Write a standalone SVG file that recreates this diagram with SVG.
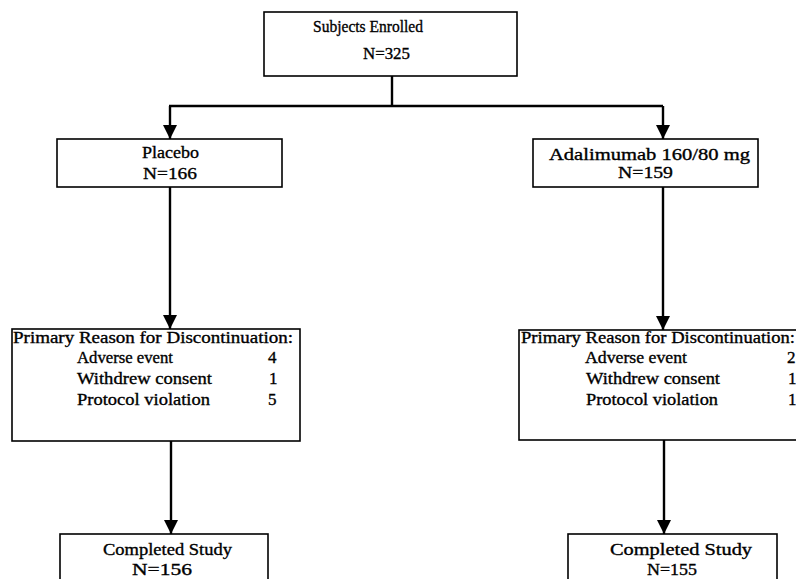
<svg xmlns="http://www.w3.org/2000/svg" width="796" height="579" viewBox="0 0 796 579">
<style>
.box{fill:#fff;stroke:#000;stroke-width:1.6}
.c{fill:none;stroke:#000;stroke-width:2.4}
text{font-family:"Liberation Serif","Times New Roman",serif;font-size:17px;fill:#000;stroke:#000;stroke-width:0.35}
</style>
<defs>
<marker id="ah" markerUnits="userSpaceOnUse" markerWidth="14" markerHeight="14" refX="14" refY="7" orient="auto" viewBox="0 0 14 14">
<path d="M0,0 L14,7 L0,14 Z" fill="#000"/>
</marker>
</defs>
<rect width="796" height="579" fill="#fff"/>
<g id="connectors">
<path class="c" d="M392,76 V106"/>
<path class="c" d="M169,106 H663"/>
<path class="c" d="M170,106 V139" marker-end="url(#ah)"/>
<path class="c" d="M663,106 V139" marker-end="url(#ah)"/>
<path class="c" d="M170,187 V329" marker-end="url(#ah)"/>
<path class="c" d="M663,187 V330" marker-end="url(#ah)"/>
<path class="c" d="M171,441 V534" marker-end="url(#ah)"/>
<path class="c" d="M664,440 V534" marker-end="url(#ah)"/>
</g>
<g id="enrolled">
<rect class="box" x="264" y="12" width="253" height="64"/>
<text x="313" y="32" textLength="110" lengthAdjust="spacingAndGlyphs">Subjects Enrolled</text>
<text x="363" y="59" textLength="47" lengthAdjust="spacingAndGlyphs">N=325</text>
</g>
<g id="placebo">
<rect class="box" x="57" y="139" width="225" height="48"/>
<text x="142" y="158" textLength="57" lengthAdjust="spacingAndGlyphs">Placebo</text>
<text x="143" y="179" textLength="54" lengthAdjust="spacingAndGlyphs">N=166</text>
</g>
<g id="adalimumab">
<rect class="box" x="533" y="139" width="225" height="48"/>
<text x="549" y="160" textLength="201" lengthAdjust="spacingAndGlyphs">Adalimumab 160/80 mg</text>
<text x="618" y="178" textLength="55" lengthAdjust="spacingAndGlyphs">N=159</text>
</g>
<g id="disc-placebo">
<rect class="box" x="12" y="329" width="288" height="112"/>
<text x="13" y="343" textLength="280" lengthAdjust="spacingAndGlyphs">Primary Reason for Discontinuation:</text>
<text x="77" y="363" textLength="96" lengthAdjust="spacingAndGlyphs">Adverse event</text>
<text x="268" y="363">4</text>
<text x="77" y="384" textLength="135" lengthAdjust="spacingAndGlyphs">Withdrew consent</text>
<text x="269" y="384">1</text>
<text x="77" y="405" textLength="133" lengthAdjust="spacingAndGlyphs">Protocol violation</text>
<text x="268" y="405">5</text>
</g>
<g id="disc-adalimumab">
<rect class="box" x="519" y="330" width="280" height="110"/>
<text x="521" y="343" textLength="274" lengthAdjust="spacingAndGlyphs">Primary Reason for Discontinuation:</text>
<text x="585" y="363" textLength="102" lengthAdjust="spacingAndGlyphs">Adverse event</text>
<text x="787" y="363">2</text>
<text x="586" y="384" textLength="134" lengthAdjust="spacingAndGlyphs">Withdrew consent</text>
<text x="788" y="384">1</text>
<text x="586" y="405" textLength="132" lengthAdjust="spacingAndGlyphs">Protocol violation</text>
<text x="788" y="405">1</text>
</g>
<g id="completed-placebo">
<rect class="box" x="60" y="534" width="208" height="60"/>
<text x="103" y="555" textLength="129" lengthAdjust="spacingAndGlyphs">Completed Study</text>
<text x="132" y="575" textLength="60" lengthAdjust="spacingAndGlyphs">N=156</text>
</g>
<g id="completed-adalimumab">
<rect class="box" x="568" y="534" width="209" height="60"/>
<text x="610" y="555" textLength="142" lengthAdjust="spacingAndGlyphs">Completed Study</text>
<text x="647" y="575" textLength="50" lengthAdjust="spacingAndGlyphs">N=155</text>
</g>
</svg>
